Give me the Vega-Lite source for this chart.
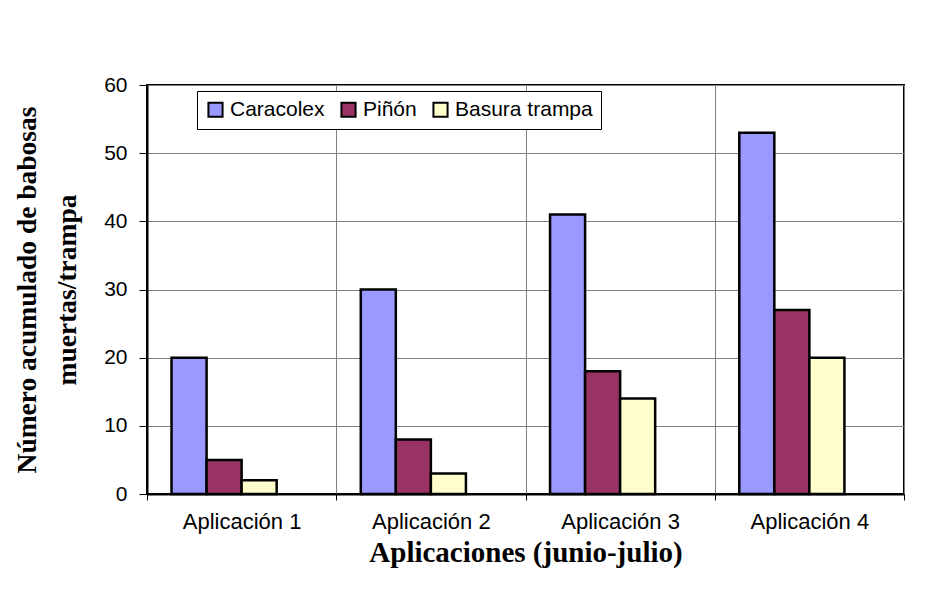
{
  "$schema": "https://vega.github.io/schema/vega-lite/v6.json",
  "autosize": "none",
  "width": 757,
  "height": 409,
  "padding": {"left": 147, "top": 85, "right": 40, "bottom": 106},
  "background": "white",
  "config": {
    "view": {"stroke": "black", "strokeWidth": 2},
    "font": "Liberation Sans"
  },
  "data": {
    "values": [
      {"app": "Aplicación 1", "serie": "Caracolex", "valor": 20},
      {"app": "Aplicación 1", "serie": "Piñón", "valor": 5},
      {"app": "Aplicación 1", "serie": "Basura trampa", "valor": 2},
      {"app": "Aplicación 2", "serie": "Caracolex", "valor": 30},
      {"app": "Aplicación 2", "serie": "Piñón", "valor": 8},
      {"app": "Aplicación 2", "serie": "Basura trampa", "valor": 3},
      {"app": "Aplicación 3", "serie": "Caracolex", "valor": 41},
      {"app": "Aplicación 3", "serie": "Piñón", "valor": 18},
      {"app": "Aplicación 3", "serie": "Basura trampa", "valor": 14},
      {"app": "Aplicación 4", "serie": "Caracolex", "valor": 53},
      {"app": "Aplicación 4", "serie": "Piñón", "valor": 27},
      {"app": "Aplicación 4", "serie": "Basura trampa", "valor": 20}
    ]
  },
  "mark": {"type": "bar", "stroke": "black", "strokeWidth": 2.5, "opacity": 1},
  "encoding": {
    "x": {
      "field": "app",
      "type": "nominal",
      "scale": {"paddingInner": 0, "paddingOuter": 0},
      "axis": {
        "title": "Aplicaciones (junio-julio)",
        "titleFont": "Liberation Serif",
        "titleFontSize": 29,
        "titleFontWeight": "bold",
        "titleColor": "black",
        "titlePadding": 6,
        "labelAngle": 0,
        "labelFontSize": 22,
        "labelColor": "black",
        "labelPadding": 11,
        "tickBand": "extent",
        "tickColor": "black",
        "tickSize": 6,
        "domainColor": "black",
        "domainWidth": 2,
        "grid": true,
        "gridColor": "#808080",
        "gridWidth": 1
      }
    },
    "xOffset": {
      "field": "serie",
      "type": "nominal",
      "scale": {"domain": ["Caracolex", "Piñón", "Basura trampa", "_vacío"], "paddingInner": 0, "paddingOuter": 0.7}
    },
    "y": {
      "field": "valor",
      "type": "quantitative",
      "scale": {"domain": [0, 60]},
      "axis": {
        "title": ["Número acumulado de babosas", "muertas/trampa"],
        "titleFont": "Liberation Serif",
        "titleFontSize": 27.5,
        "titleFontWeight": "bold",
        "titleColor": "black",
        "titlePadding": 22,
        "titleLineHeight": 40,
        "values": [0, 10, 20, 30, 40, 50, 60],
        "labelFontSize": 21,
        "labelColor": "black",
        "labelPadding": 12,
        "tickColor": "black",
        "tickSize": 8,
        "domainColor": "black",
        "domainWidth": 2,
        "gridColor": "#808080",
        "gridWidth": 1
      }
    },
    "color": {
      "field": "serie",
      "type": "nominal",
      "scale": {"domain": ["Caracolex", "Piñón", "Basura trampa"], "range": ["#9999FF", "#993366", "#FFFFCC"]},
      "legend": {
        "title": null,
        "orient": "none",
        "direction": "horizontal",
        "legendX": 50,
        "legendY": 6,
        "symbolType": "square",
        "symbolSize": 200,
        "symbolStrokeColor": "black",
        "symbolStrokeWidth": 2,
        "labelFontSize": 21,
        "labelColor": "black",
        "labelOffset": 4,
        "columnPadding": 12,
        "padding": 8,
        "fillColor": "white",
        "strokeColor": "black"
      }
    }
  }
}
